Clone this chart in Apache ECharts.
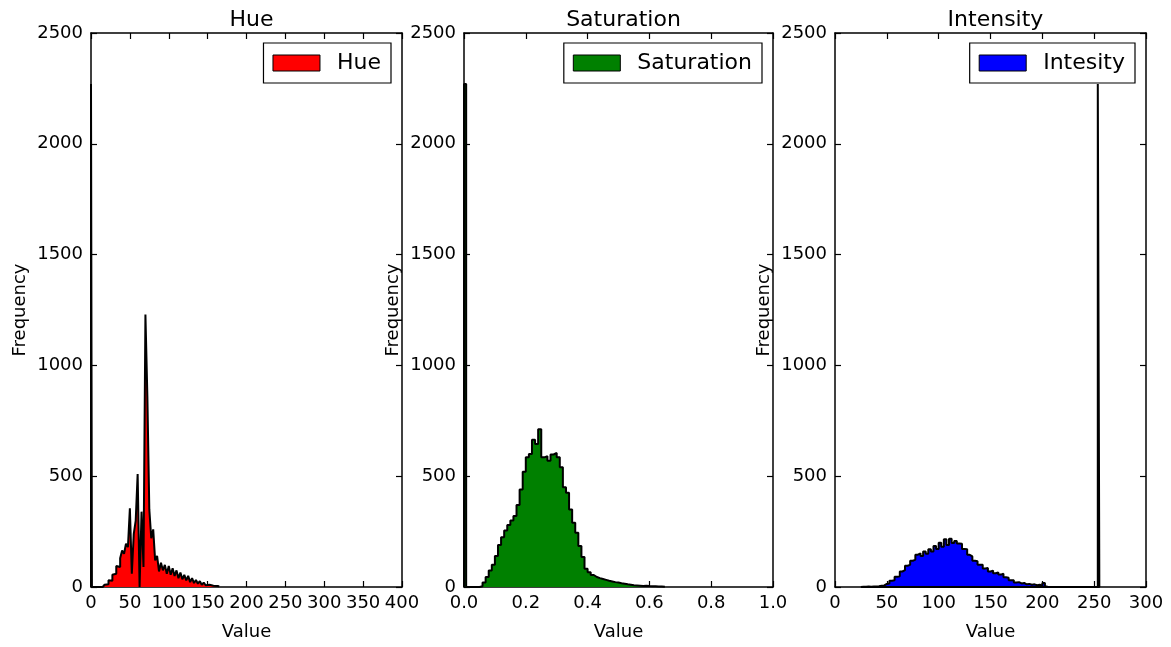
<!DOCTYPE html>
<html>
<head>
<meta charset="utf-8">
<title>Hue / Saturation / Intensity</title>
<script src="https://cdn.jsdelivr.net/npm/echarts@6/dist/echarts.min.js"></script>
<style>
	html, body { margin: 0; padding: 0; background: #fff; }
	#main { width: 1171px; height: 647px; }
</style>
</head>
<body>
<div id="main"></div>
<script>
// histogram data, bins
var hueStart = 15, hueWidth = 2.5;
var hueCounts = [3, 10, 12, 30, 28, 55, 60, 95, 90, 130, 165, 150, 195, 180, 355, 60, 240, 300, 510, 0,
	340, 90, 1230, 860, 350, 220, 260, 120, 140, 70, 110, 75, 100, 60, 95, 55, 85, 50, 75, 40,
	65, 35, 55, 30, 50, 22, 40, 18, 32, 15, 26, 10, 20, 8, 10, 4, 6, 2, 4, 3];
var hueSpike = [0, 1.2, 2270];

var satStart = 0.05, satWidth = 0.01;
var satCounts = [3, 20, 45, 75, 100, 140, 190, 225, 255, 280, 300, 320, 370, 440, 520, 585, 600, 665, 645, 712,
	585, 590, 570, 598, 605, 585, 540, 450, 425, 350, 290, 245, 185, 135, 82, 66, 54, 45, 40, 36,
	32, 28, 25, 22, 20, 17, 15, 12, 10, 8, 7, 6, 5, 6, 4, 3, 3, 2, 2, 1];
var satSpike = [0, 0.007, 2270];

var intStart = 25, intWidth = 2.5;
var intCounts = [1, 1, 2, 1, 2, 2, 3, 6, 7, 14, 16, 28, 30, 46, 48, 70, 76, 96, 100, 118,
	124, 146, 152, 140, 160, 150, 170, 160, 185, 172, 200, 182, 215, 190, 218, 198, 208, 196, 195, 172,
	170, 145, 138, 118, 116, 100, 100, 84, 86, 70, 74, 62, 66, 56, 60, 44, 42, 30, 30, 20,
	22, 16, 18, 12, 14, 10, 12, 8, 10, 6, 18, 2];
var intSpike = [253.5, 255, 2270];

var yTicks = [0, 2500, 500];
var hueTicks = [0, 400, 50];
var satTicks = [0, 1, 0.2];
var intTicks = [0, 300, 50];

var titles = ['Hue', 'Saturation', 'Intensity'];
var legendNames = ['Hue', 'Saturation', 'Intesity'];
var fills = ['#ff0000', '#008000', '#0000ff'];

// step points for a stepfilled histogram
function stepPoints(spike, start, width, counts) {
	var pts = [[spike[0], 0], [spike[0], spike[2]], [spike[1], 0]];
	for (var i = 0; i < counts.length; i++) {
		pts.push([start + i * width, counts[i]]);
	}
	pts.push([start + counts.length * width, 0]);
	return pts;
}

var FONT = 'DejaVu Sans';
var grids = [
	{ left: 91, top: 33, width: 311, height: 554 },
	{ left: 464, top: 33, width: 309, height: 554 },
	{ left: 835, top: 33, width: 311, height: 554 }
];
var xTicks = [hueTicks, satTicks, intTicks];
var seriesData = [
	stepPoints(hueSpike, hueStart, hueWidth, hueCounts),
	stepPoints(satSpike, satStart, satWidth, satCounts),
	stepPoints(intSpike, intStart, intWidth, intCounts)
];
var legendRight = [780, 409, 36];

var lineStyle = { color: '#000', width: 1.5 };
var tickStyle = { show: true, inside: true, length: 6, lineStyle: { color: '#000', width: 1.2 } };

var option = {
	animation: false,
	backgroundColor: '#fff',
	textStyle: { fontFamily: FONT },
	title: [],
	legend: [],
	grid: [],
	xAxis: [],
	yAxis: [],
	series: []
};

for (var i = 0; i < 3; i++) {
	var g = grids[i];
	option.grid.push({ left: g.left, top: g.top, width: g.width, height: g.height, containLabel: false });
	option.title.push({
		text: titles[i],
		left: g.left + g.width / 2,
		top: 4,
		textAlign: 'center',
		textStyle: { fontFamily: FONT, fontSize: 22, fontWeight: 'normal', color: '#000' }
	});
	option.legend.push({
		data: [{ name: legendNames[i], icon: 'rect', itemStyle: { color: fills[i], borderColor: '#000', borderWidth: 1 } }],
		right: legendRight[i],
		top: 43,
		padding: [9, 10, 9, 9],
		itemWidth: 47,
		itemHeight: 16,
		borderColor: '#000',
		borderWidth: 1.2,
		backgroundColor: '#fff',
		selectedMode: false,
		textStyle: { fontFamily: FONT, fontSize: 22, color: '#000', padding: [0, 0, 0, 12] }
	});
	var xt = xTicks[i];
	option.xAxis.push({
		type: 'value', gridIndex: i, min: xt[0], max: xt[1], interval: xt[2],
		position: 'bottom',
		name: 'Value', nameLocation: 'middle', nameGap: 36,
		nameTextStyle: { fontFamily: FONT, fontSize: 18, color: '#000' },
		axisLine: { show: true, onZero: false, lineStyle: lineStyle },
		axisTick: tickStyle,
		splitLine: { show: false },
		axisLabel: {
			fontFamily: FONT, fontSize: 18, color: '#000', margin: 7, showMinLabel: true, showMaxLabel: true,
			formatter: i == 1 ? function(v) { return v.toFixed(1); } : function(v) { return String(v); }
		}
	});
	option.xAxis.push({
		type: 'value', gridIndex: i, min: xt[0], max: xt[1], interval: xt[2],
		position: 'top',
		axisLine: { show: true, onZero: false, lineStyle: lineStyle },
		axisTick: tickStyle,
		splitLine: { show: false },
		axisLabel: { show: false }
	});
	option.yAxis.push({
		type: 'value', gridIndex: i, min: yTicks[0], max: yTicks[1], interval: yTicks[2],
		position: 'left',
		name: 'Frequency', nameLocation: 'middle', nameGap: 62,
		nameTextStyle: { fontFamily: FONT, fontSize: 18, color: '#000' },
		axisLine: { show: true, onZero: false, lineStyle: lineStyle },
		axisTick: tickStyle,
		splitLine: { show: false },
		axisLabel: {
			fontFamily: FONT, fontSize: 18, color: '#000', margin: 8,
			formatter: function(v) { return String(v); }
		}
	});
	option.yAxis.push({
		type: 'value', gridIndex: i, min: yTicks[0], max: yTicks[1], interval: yTicks[2],
		position: 'right',
		axisLine: { show: true, onZero: false, lineStyle: lineStyle },
		axisTick: tickStyle,
		splitLine: { show: false },
		axisLabel: { show: false }
	});
	option.series.push({
		name: legendNames[i],
		type: 'line',
		xAxisIndex: i * 2,
		yAxisIndex: i * 2,
		step: 'end',
		symbol: 'none',
		showSymbol: false,
		color: '#000',
		lineStyle: { color: '#000', width: 2 },
		areaStyle: { color: fills[i], opacity: 1 },
		data: seriesData[i],
		z: 1
	});
}

var myChart = echarts.init(document.getElementById('main'));
myChart.setOption(option);
window.onresize = function() {
	myChart.resize();
};
</script>
</body>
</html>
